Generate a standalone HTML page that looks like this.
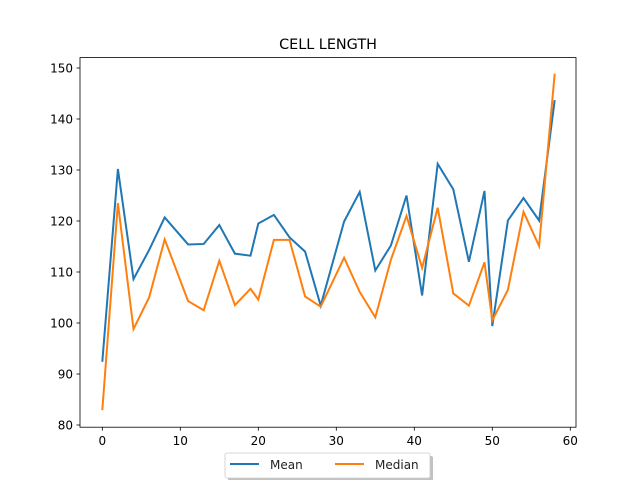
<!DOCTYPE html>
<html><head><meta charset="utf-8"><style>
body{margin:0;background:#fff;}
svg text{font-family:"DejaVu Sans","Liberation Sans",sans-serif;}
</style></head><body>
<svg id="chart" width="640" height="480" viewBox="0 0 640 480">
<rect width="640" height="480" fill="#fff"/>
<text x="328" y="49" text-anchor="middle" font-size="14.4">CELL LENGTH</text>
<g id="plot"></g>
<rect x="80" y="57.6" width="496" height="369.6" fill="none" stroke="#000" stroke-width="0.8"/>
<g id="xticks"></g><g id="yticks"></g>
<g>
<rect x="228" y="456" width="205" height="25" rx="2" fill="#999" opacity="0.6"/>
<rect x="225" y="453" width="205" height="25" rx="2" fill="#fff" stroke="#ccc" stroke-width="0.8"/>
<line x1="230" y1="464" x2="259" y2="464" stroke="#1f77b4" stroke-width="2"/>
<text x="270" y="469" font-size="12" fill="#222">Mean</text>
<line x1="335" y1="464" x2="364" y2="464" stroke="#ff7f0e" stroke-width="2"/>
<text x="375" y="469" font-size="12" fill="#222">Median</text>
</g>
</svg>
<script>
const xs=[0,2,4,6,8,11,13,15,17,19,20,22,24,26,28,31,33,35,37,39,41,43,45,47,49,50,52,54,56,58];
const meanVals=[92.4,130.2,108.6,114.3,120.7,115.4,115.5,119.2,113.6,113.2,119.5,121.2,116.8,114.0,103.4,119.9,125.7,110.3,115.2,125.0,105.4,131.2,126.2,112.0,125.9,99.4,120.1,124.5,120.1,143.7];
const medianVals=[82.9,123.5,98.8,105.0,116.4,104.3,102.5,112.2,103.5,106.7,104.6,116.3,116.3,105.2,103.2,112.8,106.1,101.1,112.4,121.0,110.8,122.6,105.8,103.4,111.9,100.5,106.5,121.8,115.1,148.9];
const xTickVals=[0,10,20,30,40,50,60];
const yTickVals=[80,90,100,110,120,130,140,150];
const NS="http://www.w3.org/2000/svg";
function sx(v){return 102.3+(v)*7.8;}
function sy(v){return 425-(v-80)*5.1;}
const plot=document.getElementById('plot');
function line(vals,color,name){
  const p=document.createElementNS(NS,'polyline');
  p.setAttribute('points',xs.map((x,i)=>sx(x)+','+sy(vals[i])).join(' '));
  p.setAttribute('fill','none');p.setAttribute('stroke',color);p.setAttribute('stroke-width','2');
  
  
  plot.appendChild(p);
}
line(meanVals,'#1f77b4','mean-line');
line(medianVals,'#ff7f0e','median-line');
const xt=document.getElementById('xticks');
xTickVals.forEach(v=>{
  const l=document.createElementNS(NS,'line');
  l.setAttribute('x1',sx(v));l.setAttribute('x2',sx(v));l.setAttribute('y1',427.2);l.setAttribute('y2',430.7);l.setAttribute('stroke','#000');l.setAttribute('stroke-width','0.8');
  
  
  xt.appendChild(l);
  const t=document.createElementNS(NS,'text');
  t.setAttribute('x',sx(v));t.setAttribute('y',445);t.setAttribute('text-anchor','middle');t.setAttribute('font-size','12');
  t.textContent=v;
  
  
  xt.appendChild(t);
});
const yt=document.getElementById('yticks');
yTickVals.forEach(v=>{
  const l=document.createElementNS(NS,'line');
  l.setAttribute('x1',76.5);l.setAttribute('x2',80);l.setAttribute('y1',sy(v));l.setAttribute('y2',sy(v));l.setAttribute('stroke','#000');l.setAttribute('stroke-width','0.8');
  
  
  yt.appendChild(l);
  const t=document.createElementNS(NS,'text');
  t.setAttribute('x',73);t.setAttribute('y',sy(v)+4.5);t.setAttribute('text-anchor','end');t.setAttribute('font-size','12');
  t.textContent=v;
  
  
  yt.appendChild(t);
});
</script>
</body></html>
